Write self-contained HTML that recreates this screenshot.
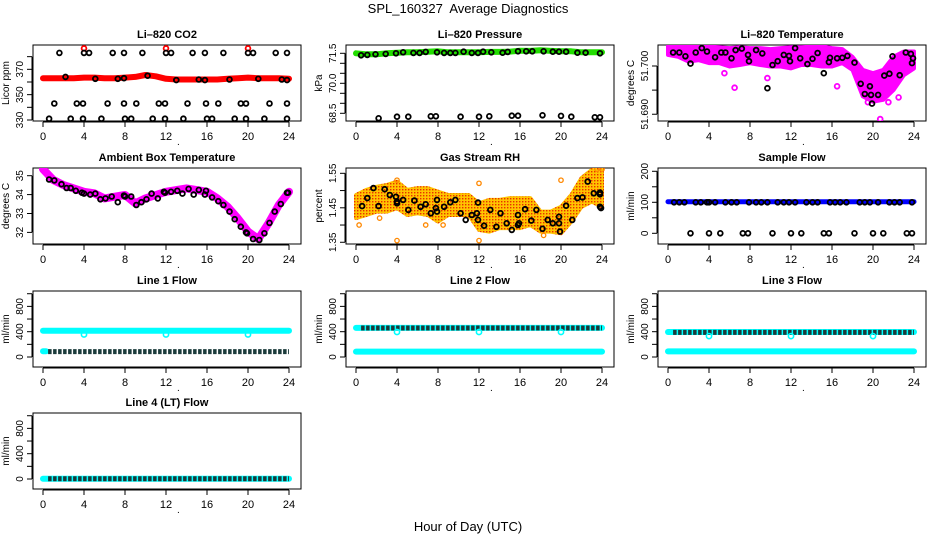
<!DOCTYPE html>
<html><head><meta charset="utf-8"><style>
body{margin:0;background:#fff;}
svg{display:block;font-family:"Liberation Sans",sans-serif;}
</style></head><body>
<svg id="chart" width="936" height="540" viewBox="0 0 936 540">
<defs>
<pattern id="rhpat" width="3" height="3" patternUnits="userSpaceOnUse">
<rect width="3" height="3" fill="#ffc400"/><rect x="0" y="0" width="1.4" height="1.4" fill="#e83000"/>
</pattern>
</defs>
<text x="468" y="13" text-anchor="middle" font-size="13" style="white-space:pre">SPL_160327  Average Diagnostics</text>
<text x="468" y="531" text-anchor="middle" font-size="13">Hour of Day (UTC)</text>
</svg>
<script>
const hours = [0,1,2,3,4,5,6,7,8,9,10,11,12,13,14,15,16,17,18,19,20,21,22,23,24];
const flowHours = [0.5,1,2,3,4,5,6,7,8,9,10,11,12,13,14,15,16,17,18,19,20,21,22,23,24];
const xTicks = [0,4,8,12,16,20,24];

// Li-820 CO2
const co2Red = [363,363,363,363,363.5,363.5,363,363,363.5,364,365.5,364.5,362.5,362,362,362,362,362,362.5,363,363.5,363,363,363,362.5];
const co2RedOutX = [4,12,20];
const co2RedOutY = [386.5,386.5,386.5];
const co2BlackX = [1.6,4,4.5,6.8,7.9,9.7,12,12.5,14.6,15.8,17.6,20,20.5,22.7,23.8, 2.2,5.1,7.3,7.9,10.2,13,15.2,15.8,18.2,21,23.3,23.8, 1.1,3.3,3.9,6.3,7.9,9.1,11.3,11.9,14.1,15.9,17.1,19.3,19.8,22.1,23.8, 0.6,2.7,3.9,5.7,8,8.6,10.7,11.9,13.7,16,16.5,18.7,19.8,21.6,23.8];
const co2BlackY = [383,383,383,383,383,383,383,383,383,383,383,383,383,383,383, 364,362.5,362.5,363,365,361.5,362,361.5,362,362.5,362,361.5, 343,343,343,343,343,343,343,343,343,343,343,343,343,343,343, 331,331,331,331,331,331,331,331,331,331,331,331,331,331,331];

// Li-820 Pressure
const presGreen = [71.5,71.45,71.45,71.5,71.53,71.55,71.55,71.58,71.6,71.55,71.55,71.55,71.55,71.57,71.57,71.58,71.63,71.62,71.65,71.62,71.6,71.6,71.55,71.55,71.55];
const presBlackX = [0.5,1.1,1.9,2.9,3.9,4.6,5.6,6.2,6.8,7.9,8.6,9.2,9.7,10.5,11.3,11.9,12.4,13.2,14.3,14.8,15.8,16.6,17.2,18.3,19.2,19.8,20.5,21.6,22.4,23.8, 2.2,4,5.1,7.3,7.8,10.2,12,13,15.2,15.8,18.2,20,21,23.3,23.8];
const presBlackY = [71.4,71.42,71.45,71.47,71.5,71.55,71.52,71.52,71.57,71.55,71.52,71.52,71.52,71.58,71.52,71.52,71.58,71.55,71.53,71.57,71.6,71.6,71.6,71.6,71.58,71.58,71.58,71.53,71.53,71.5, 68.25,68.33,68.33,68.35,68.35,68.33,68.33,68.35,68.38,68.38,68.4,68.37,68.33,68.3,68.3];

// Li-820 Temperature
const tempHi = [51.7041,51.7041,51.7040,51.7041,51.7040,51.7039,51.7037,51.7039,51.7037,51.7037,51.7035,51.7037,51.7039,51.7039,51.7040,51.7041,51.7037,51.7035,51.7019,51.6992,51.6985,51.6992,51.7019,51.7030,51.7030];
const tempLo = [51.7023,51.7019,51.7009,51.7012,51.7006,51.7006,51.6999,51.7002,51.7006,51.7002,51.6999,51.6999,51.6995,51.7002,51.7002,51.6999,51.6999,51.7006,51.6992,51.6937,51.6926,51.6930,51.6950,51.6981,51.6995];
const tempOutX = [6.5,16.5,20.7,21.1,22.5,5.5,9.7,19.5,21.5];
const tempOutY = [51.6955,51.6958,51.6890,51.6875,51.6935,51.6985,51.6975,51.6925,51.6925];
const tempBlackX = [0.5,1.1,1.7,2.2,2.7,3.3,3.8,4.6,5.2,5.6,6.2,6.6,7.2,7.8,7.9,8.6,9.2,9.7,10.2,10.7,11.3,11.8,11.9,12.4,12.9,13.6,14.1,14.6,15.2,15.7,15.8,16.5,17,17.5,18.2,18.8,19.2,19.7,19.8,19.9,20.5,21.1,21.6,21.9,22.6,23.2,23.7,23.8,23.9];
const tempBlackY = [51.7028,51.7028,51.7020,51.7005,51.7028,51.7037,51.7030,51.7018,51.7028,51.7028,51.7016,51.7033,51.7036,51.7023,51.7010,51.7033,51.7026,51.6954,51.7002,51.7010,51.7023,51.7021,51.7010,51.7037,51.7016,51.7004,51.7015,51.7027,51.6985,51.7008,51.7017,51.7016,51.7017,51.7021,51.7007,51.6963,51.6942,51.6958,51.6940,51.6922,51.6940,51.6980,51.6984,51.7020,51.6981,51.7028,51.7025,51.7006,51.7016];

// Ambient Box Temperature
const ambMagenta = [35.35,34.77,34.5,34.33,34.15,34.07,33.8,33.89,33.98,33.54,33.8,33.98,34.15,34.24,34.33,34.24,34.15,33.8,33.36,32.74,32.04,31.65,32.48,33.45,34.15];
const ambBlackX = [0.6,1.1,1.8,2.3,2.7,3.2,3.8,4,4.6,5.1,5.6,6.1,6.7,7.3,7.9,8,8.6,9.1,9.6,10.1,10.6,11.2,11.8,11.9,12.5,13.1,13.6,14.2,14.7,15.2,15.8,15.9,16.5,17.1,17.6,18.2,18.7,19.3,19.8,19.9,20.5,21.1,21.6,22.1,22.6,23.2,23.8,23.9];
const ambBlackY = [34.8,34.75,34.55,34.35,34.35,34.2,34.1,34.05,34.0,34.05,33.75,33.8,33.9,33.6,33.95,33.9,33.9,33.45,33.6,33.75,34.05,33.8,34.15,34.1,34.15,34.2,34.05,34.3,34.0,34.25,34.0,34.2,33.85,33.65,33.45,33.1,32.7,32.3,32.0,31.95,31.65,31.6,31.95,32.5,33.1,33.5,34.1,34.1];

// Gas Stream RH
const rhHi = [1.487,1.502,1.511,1.516,1.526,1.502,1.507,1.507,1.497,1.487,1.487,1.487,1.463,1.473,1.473,1.478,1.478,1.478,1.439,1.439,1.453,1.487,1.536,1.560,1.560];
const rhLo = [1.420,1.429,1.439,1.439,1.449,1.429,1.434,1.429,1.410,1.429,1.429,1.429,1.386,1.381,1.391,1.391,1.391,1.400,1.381,1.381,1.376,1.410,1.453,1.468,1.453];
const rhOutX = [4,4,0.3,12,12,20,24,6.8,2.3,8.5,18.3,23.5];
const rhOutY = [1.53,1.355,1.40,1.521,1.355,1.53,1.562,1.40,1.42,1.40,1.37,1.562];
const rhBlackX = [0.6,1.1,1.7,2.2,2.8,3.3,3.9,4,4,4.6,5.1,5.7,6.3,6.8,7.3,7.8,7.9,7.9,8.6,9.2,9.7,10.2,10.7,11.3,11.8,11.9,11.9,12.5,13.1,13.7,14.1,14.7,15.2,15.8,15.9,15.8,16.5,17.1,17.6,18.2,18.7,19.2,19.8,19.8,19.9,20.5,21.1,21.6,22.1,22.6,23.2,23.8,23.8,23.8,23.9];
const rhBlackY = [1.455,1.478,1.507,1.455,1.504,1.487,1.482,1.468,1.463,1.473,1.444,1.471,1.453,1.460,1.434,1.449,1.439,1.473,1.453,1.466,1.473,1.434,1.415,1.429,1.434,1.415,1.465,1.398,1.444,1.395,1.434,1.405,1.386,1.429,1.405,1.400,1.446,1.413,1.444,1.389,1.415,1.405,1.424,1.405,1.381,1.456,1.415,1.478,1.480,1.526,1.492,1.489,1.494,1.453,1.449];

// Sample Flow
const sampleBlue = [102,102,102,102,102,102,102,102,102,102,102,102,102,102,102,102,102,102,102,102,102,102,102,102,102];
const sampleBlackX = [0.6,1.1,1.6,2.7,3.2,3.8,4,4.6,5.6,6.2,6.7,7.9,8.6,9.1,9.7,10.7,11.3,11.8,12.4,13.5,14.1,14.6,15.8,16.3,16.8,17.4,18.7,19.2,19.7,20.5,21.6,22.1,22.6,23.8, 2.2,4,5.1,7.3,7.8,10.2,12,13,15.2,15.7,18.2,20,21,23.3,23.8];
const sampleBlackY = [100,100,100,100,100,100,100,100,100,100,100,100,100,100,100,100,100,100,100,100,100,100,100,100,100,100,100,100,100,100,100,100,100,100, 0,0,0,0,0,0,0,0,0,0,0,0,0,0,0];

// Line flows (cyan hourly, black hourly from 0.5 h)
const line1CyanHi = [416,416,416,416,416,416,416,416,416,416,416,416,416,416,416,416,416,416,416,416,416,416,416,416,416];
const line1CyanLo = [90,90];
const line1Black = [85,85,85,85,85,85,85,85,85,85,85,85,85,85,85,85,85,85,85,85,85,85,85,85,85];
const line2CyanHi = [460,460,460,460,460,460,460,460,460,460,460,460,460,460,460,460,460,460,460,460,460,460,460,460,460];
const line2CyanLo = [85,85,85,85,85,85,85,85,85,85,85,85,85,85,85,85,85,85,85,85,85,85,85,85,85];
const line2Black = [458,458,458,458,458,458,458,458,458,458,458,458,458,458,458,458,458,458,458,458,458,458,458,458,458];
const line3CyanHi = [395,395,395,395,395,395,395,395,395,395,395,395,395,395,395,395,395,395,395,395,395,395,395,395,395];
const line3CyanLo = [88,88,88,88,88,88,88,88,88,88,88,88,88,88,88,88,88,88,88,88,88,88,88,88,88];
const line3Black = [389,389,389,389,389,389,389,389,389,389,389,389,389,389,389,389,389,389,389,389,389,389,389,389,389];
const line4Cyan = [5,5,5,5,5,5,5,5,5,5,5,5,5,5,5,5,5,5,5,5,5,5,5,5,5];
const line4Black = [3,3,3,3,3,3,3,3,3,3,3,3,3,3,3,3,3,3,3,3,3,3,3,3,3];
const dipX = [4,12,20];
const line1DipY = [355,355,355];
const line2DipY = [395,395,395];
const line3DipY = [330,330,330];

const NS = "http://www.w3.org/2000/svg";
const svg = document.getElementById('chart');
function el(tag, attrs, parent) {
  const e = document.createElementNS(NS, tag);
  for (const k in attrs) e.setAttribute(k, attrs[k]);
  (parent || svg).appendChild(e);
  return e;
}
const colLeft = [33, 346, 658];
const rowTop = [45, 168, 291, 413];
const PW = 268, PH = 76;

function makePanel(col, row, name, title, ylab, dom, ticks, labels) {
  const L = colLeft[col], T = rowTop[row];
  const g = el('g', {});
  
  
  const xs = t => L + 10 + t / 24 * 246;
  const ys = v => T + PH - (v - dom[0]) / (dom[1] - dom[0]) * PH;
  const tt = el('text', {x: L + PW / 2, y: T - 7, 'text-anchor': 'middle', 'font-size': 11, 'font-weight': 'bold'}, g);
  tt.textContent = title;
  
  
  const yl = el('text', {x: 0, y: 0, 'text-anchor': 'middle', 'font-size': 10, transform: `translate(${L - 24},${T + PH / 2}) rotate(-90)`}, g);
  yl.textContent = ylab;
  
  
  const ax = el('g', {stroke: '#000', 'stroke-width': 1}, g);
  
  
  el('line', {x1: xs(0), x2: xs(24), y1: T + PH + 1, y2: T + PH + 1}, ax);
  xTicks.forEach(t => {
    el('line', {x1: xs(t), x2: xs(t), y1: T + PH + 1, y2: T + PH + 6}, ax);
    const tx = el('text', {x: xs(t), y: T + PH + 19, 'text-anchor': 'middle', 'font-size': 11, stroke: 'none'}, ax);
    tx.textContent = t;
  });
  const dot = el('text', {x: L + 144, y: T + PH + 24, 'font-size': 10}, g);
  dot.textContent = '.';
  const ay = el('g', {stroke: '#000', 'stroke-width': 1}, g);
  
  
  el('line', {x1: L - 1, x2: L - 1, y1: ys(ticks[0]), y2: ys(ticks[ticks.length - 1])}, ay);
  ticks.forEach(v => el('line', {x1: L - 6, x2: L - 1, y1: ys(v), y2: ys(v)}, ay));
  labels.forEach(s => {
    const v = parseFloat(s);
    const tx = el('text', {x: 0, y: 0, 'text-anchor': 'middle', 'font-size': 10, stroke: 'none', transform: `translate(${L - 10},${ys(v)}) rotate(-90)`}, ay);
    tx.textContent = s;
  });
  const box = el('rect', {x: L, y: T, width: PW, height: PH, fill: 'none', stroke: '#000', 'stroke-width': 1}, g);
  
  
  const clipId = 'c' + col + row;
  const cp = el('clipPath', {id: clipId}, g);
  el('rect', {x: L, y: T, width: PW, height: PH}, cp);
  const marks = el('g', {'clip-path': `url(#${clipId})`}, g);
  
  
  return {xs, ys, g: marks};
}
function band(p, xArr, yArr, color, w, dash) {
  const pts = xArr.map((t, i) => p.xs(t).toFixed(1) + ',' + p.ys(yArr[i]).toFixed(1)).join(' ');
  const a = {points: pts, fill: 'none', stroke: color, 'stroke-width': w, 'stroke-linejoin': 'round'};
  if (dash) a['stroke-dasharray'] = dash; else a['stroke-linecap'] = 'round';
  const pl = el('polyline', a, p.g);
  
  
}
function area(p, xArr, hi, lo, color) {
  const top = xArr.map((t, i) => p.xs(t).toFixed(1) + ',' + p.ys(hi[i]).toFixed(1));
  const bot = xArr.map((t, i) => p.xs(t).toFixed(1) + ',' + p.ys(lo[i]).toFixed(1)).reverse();
  const pg = el('polygon', {points: top.concat(bot).join(' '), fill: color, stroke: color, 'stroke-width': 4, 'stroke-linejoin': 'round'}, p.g);
  
  
}
function pts(p, xArr, yArr, color, r, sw) {
  xArr.forEach((t, i) => {
    const c = el('circle', {cx: p.xs(t).toFixed(1), cy: p.ys(yArr[i]).toFixed(1), r: r || 2.4, fill: 'none', stroke: color, 'stroke-width': sw || 1.8}, p.g);
    
    
  });
}
const chainDash = '3.5,1.5';
const chainColor = '#1a3a3a';

// Row 1
let p = makePanel(0, 0, 'co2', 'Li\u2013820 CO2', 'Licor ppm', [329.2, 389.2], [330,340,350,360,370,380], ['330','350','370']);
band(p, hours, co2Red, '#ff0000', 6);
pts(p, co2RedOutX, co2RedOutY, '#ff0000');
pts(p, co2BlackX, co2BlackY, '#000');

p = makePanel(1, 0, 'pressure', 'Li\u2013820 Pressure', 'kPa', [68.115, 71.915], [68.5,69,69.5,70,70.5,71,71.5], ['68.5','70.0','71.5']);
band(p, hours, presGreen, '#22dd00', 6);
pts(p, presBlackX, presBlackY, '#000');

p = makePanel(2, 0, 'li820-temp', 'Li\u2013820 Temperature', 'degrees C', [51.6886, 51.70435], [51.690,51.695,51.700], ['51.690','51.700']);
area(p, hours, tempHi, tempLo, '#ff00ff');
pts(p, tempOutX, tempOutY, '#ff00ff');
pts(p, tempBlackX, tempBlackY, '#000');

// Row 2
p = makePanel(0, 1, 'ambient-temp', 'Ambient Box Temperature', 'degrees C', [31.386, 35.407], [32,33,34,35], ['32','33','34','35']);
band(p, hours, ambMagenta, '#ff00ff', 8);
pts(p, ambBlackX, ambBlackY, '#000');

p = makePanel(1, 1, 'gas-rh', 'Gas Stream RH', 'percent', [1.345, 1.5654], [1.35,1.40,1.45,1.50,1.55], ['1.35','1.45','1.55']);
area(p, hours, rhHi, rhLo, 'url(#rhpat)');
pts(p, rhOutX, rhOutY, '#ff8800', 2.2, 1.3);
pts(p, rhBlackX, rhBlackY, '#000');

p = makePanel(2, 1, 'sample-flow', 'Sample Flow', 'ml/min', [-34.5, 210.6], [0,50,100,150,200], ['0','100','200']);
band(p, hours, sampleBlue, '#0000ff', 5);
pts(p, sampleBlackX, sampleBlackY, '#000');

// Row 3-4 flows
const fdom = [-158, 1043], fticks = [0,200,400,600,800,1000], flab = ['0','400','800'];
p = makePanel(0, 2, 'line1-flow', 'Line 1 Flow', 'ml/min', fdom, fticks, flab);
band(p, hours, line1CyanHi, '#00ffff', 6);
band(p, [0, 0.3], line1CyanLo, '#00ffff', 6);
band(p, flowHours, line1Black, chainColor, 5, chainDash);
pts(p, dipX, line1DipY, '#00ffff', 2.6, 1.6);

p = makePanel(1, 2, 'line2-flow', 'Line 2 Flow', 'ml/min', fdom, fticks, flab);
band(p, hours, line2CyanHi, '#00ffff', 6);
band(p, hours, line2CyanLo, '#00ffff', 6);
band(p, flowHours, line2Black, chainColor, 5, chainDash);
pts(p, dipX, line2DipY, '#00ffff', 2.6, 1.6);

p = makePanel(2, 2, 'line3-flow', 'Line 3 Flow', 'ml/min', fdom, fticks, flab);
band(p, hours, line3CyanHi, '#00ffff', 6);
band(p, hours, line3CyanLo, '#00ffff', 6);
band(p, flowHours, line3Black, chainColor, 5, chainDash);
pts(p, dipX, line3DipY, '#00ffff', 2.6, 1.6);

p = makePanel(0, 3, 'line4-flow', 'Line 4 (LT) Flow', 'ml/min', fdom, fticks, flab);
band(p, hours, line4Cyan, '#00ffff', 6);
band(p, flowHours, line4Black, chainColor, 5, chainDash);
</script>
</body></html>
